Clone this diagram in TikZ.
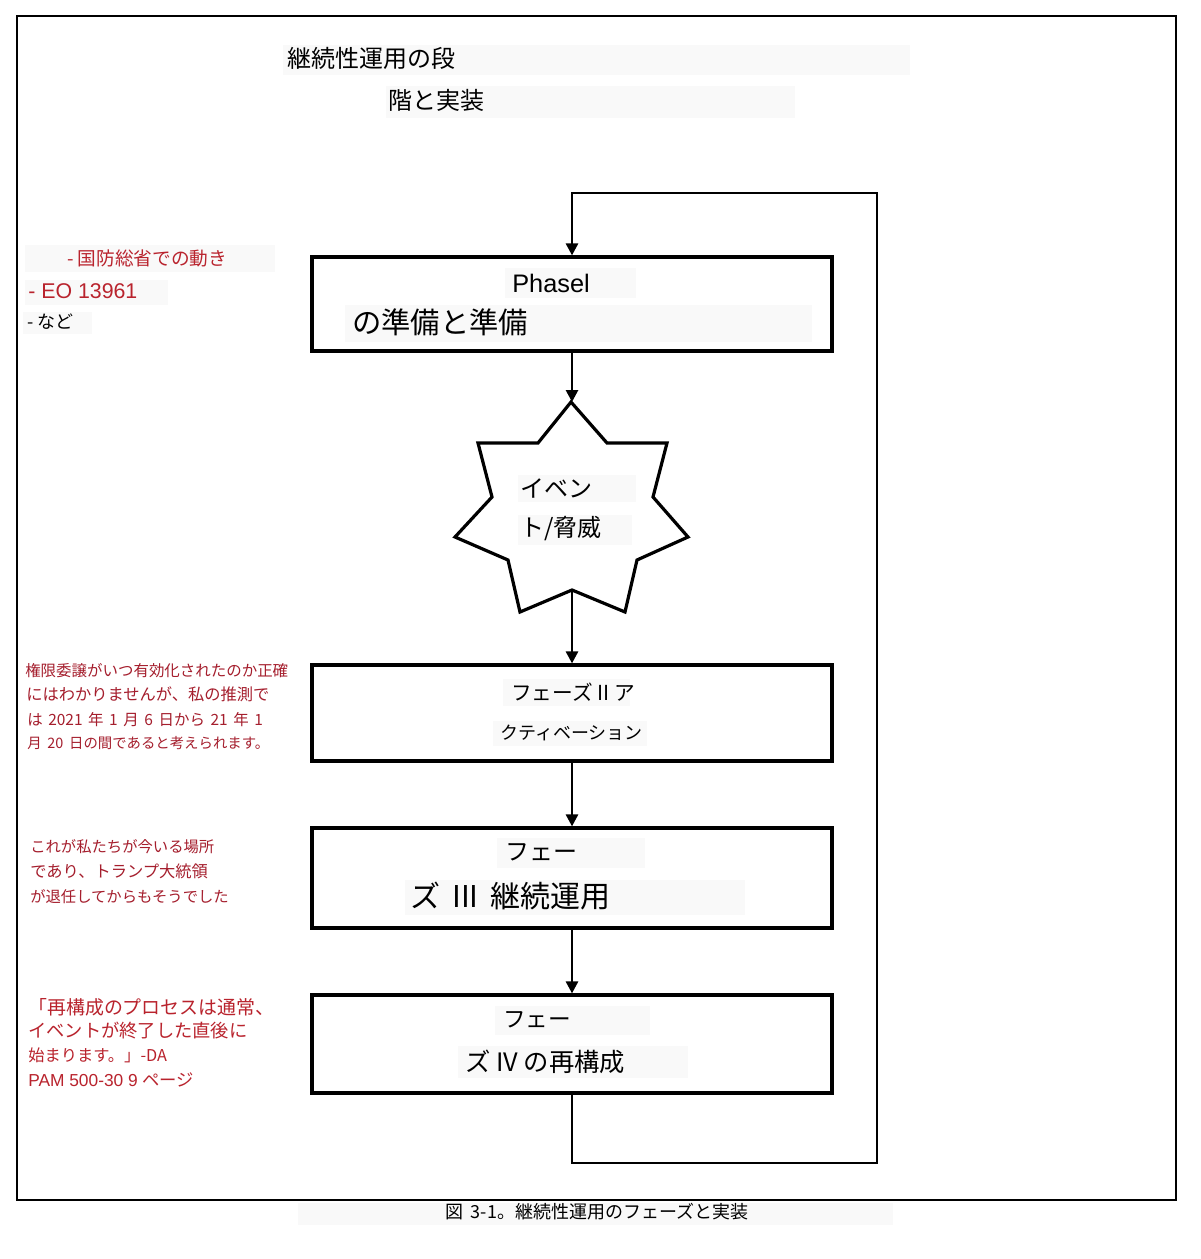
\documentclass[tikz,border=0pt]{standalone}
\usepackage{fontspec}
\setmainfont{Noto Sans CJK JP}
\newfontfamily\lat{Liberation Sans}
\usetikzlibrary{arrows.meta}
\definecolor{redA}{RGB}{185,35,45}
\definecolor{redB}{RGB}{165,30,45}
\definecolor{patchgray}{RGB}{249,249,249}
\newcommand{\fsz}[1]{\fontsize{#1}{#1}\selectfont}
\newcommand{\wsp}[1]{\spaceskip=#1em\relax}
\begin{document}
\begin{tikzpicture}[x=0.75pt,y=-0.75pt,
  frame/.style={draw=black,line width=1.6pt},
  box/.style={draw=black,fill=white,line width=2.4pt,minimum width=390pt,inner sep=0pt},
  conn/.style={draw=black,line width=2pt},
  arr/.style={conn,-{Triangle[width=9pt,length=9pt]}},
  lbl/.style={anchor=west,inner sep=0pt,text=black},
  redlbl/.style={lbl,text=redA},
  red2lbl/.style={lbl,text=redB},
  patch/.style={fill=patchgray},
  starline/.style={draw=black,fill=white,line width=2.4pt,line join=miter}]
\useasboundingbox (0,0) rectangle (1200,1259);
\fill[white] (0,0) rectangle (1200,1259);
% outer frame
\draw[frame] (17,16) rectangle (1176,1200);

% faint backgrounds behind texts
\fill[patch] (283,45) rectangle (910,75);
\fill[patch] (386,86) rectangle (795,118);
\fill[patch] (25,245) rectangle (275,272);
\fill[patch] (25,280) rectangle (168,305);
\fill[patch] (23,312) rectangle (92,334);
\fill[patch] (298,1203) rectangle (893,1225);

% title
\node[lbl] (t1) at (287,58) {\fsz{18pt}継続性運用の段};
\node[lbl] (t2) at (388,100) {\fsz{18pt}階と実装};

% boxes
\node[box,minimum height=70.5pt] (box1) at (572,304) {};
\node[box,minimum height=72pt] (box2) at (572,713) {};
\node[box,minimum height=75pt] (box3) at (572,878) {};
\node[box,minimum height=73.5pt] (box4) at (572,1044) {};

% patches inside boxes
\fill[patch] (505,268) rectangle (636,298);
\fill[patch] (345,305) rectangle (812,342);
\fill[patch] (503,679) rectangle (630,706);
\fill[patch] (493,721) rectangle (647,746);
\fill[patch] (497,838) rectangle (645,868);
\fill[patch] (405,880) rectangle (745,915);
\fill[patch] (495,1006) rectangle (650,1035);
\fill[patch] (458,1046) rectangle (688,1078);

% box texts
\node[lbl] (b1a) at (512,283) {\fsz{19pt}\lat Phasel};
\node[lbl] (b1b) at (352,322) {\fsz{22pt}の準備と準備};
\node[lbl] (b2a) at (511,692) {\fsz{15.5pt}フェーズ II ア};
\node[lbl] (b2b) at (500,733) {\fsz{13.5pt}クティベーション};
\node[lbl] (b3a) at (505,852) {\fsz{18pt}フェー};
\node[lbl] (b3b) at (410,896) {\fsz{22.5pt}\wsp{0.4}ズ III 継続運用};
\node[lbl] (b4a) at (503,1020) {\fsz{17pt}フェー};
\node[lbl] (b4b) at (465,1062) {\fsz{19pt}ズ IV の再構成};

% star
\draw[starline] (571,402) -- (607,443) -- (667,443) -- (653,497) -- (688,537)
  -- (637,560) -- (625,612) -- (572,590) -- (520,612) -- (508,560) -- (455,537)
  -- (492,497) -- (478,443) -- (538,443) -- cycle;
\coordinate (startop) at (572,402);
\coordinate (starbot) at (572,590);
\fill[patch] (518,475) rectangle (636,502);
\fill[patch] (518,515) rectangle (632,545);
\node[lbl] (s1) at (520,488) {\fsz{18pt}イベン};
\node[lbl] (s2) at (520,529) {\fsz{18pt}ト/脅威};

% connectors
\draw[arr] (box1.south) -- (startop);
\draw[arr] (starbot) -- (box2.north);
\draw[arr] (box2.south) -- (box3.north);
\draw[arr] (box3.south) -- (box4.north);
\coordinate (lp1) at (572,1163);
\coordinate (lp2) at (877,1163);
\coordinate (lp3) at (877,193);
\coordinate (lp4) at (572,193);
\draw[arr,line join=miter] (box4.south) -- (lp1) -- (lp2) -- (lp3) -- (lp4) -- (box1.north);

% left annotations
\node[redlbl] (l1) at (67,258) {\fsz{14pt}- 国防総省での動き};
\node[redlbl] (l2) at (28,291) {\fsz{16pt}\lat - EO 13961};
\node[lbl] (l3) at (27,322) {\fsz{13.5pt}- など};

\node[red2lbl] (m1) at (25,671) {\fsz{11.6pt}権限委譲がいつ有効化されたのか正確};
\node[red2lbl] (m2) at (26,694) {\fsz{12.2pt}にはわかりませんが、私の推測で};
\node[red2lbl] (m3) at (27,720) {\fsz{11.6pt}\wsp{0.36}は 2021 年 1 月 6 日から 21 年 1};
\node[red2lbl] (m4) at (27,743) {\fsz{10.8pt}\wsp{0.4}月 20 日の間であると考えられます。};

\node[red2lbl] (p1) at (30,847) {\fsz{11.5pt}これが私たちが今いる場所};
\node[red2lbl] (p2) at (30,871) {\fsz{12.2pt}であり、トランプ大統領};
\node[red2lbl] (p3) at (30,897) {\fsz{11.5pt}が退任してからもそうでした};

\node[redlbl] (q1) at (28,1007) {\fsz{14.2pt}「再構成のプロセスは通常、};
\node[redlbl] (q2) at (28,1031) {\fsz{13.7pt}イベントが終了した直後に};
\node[redlbl] (q3) at (28,1055) {\fsz{12.2pt}始まります。」-DA};
\node[redlbl] (q4) at (28,1080) {\fsz{13pt}{\lat PAM 500-30 9 }ページ};

% caption
\node[lbl] (cap) at (445,1212) {\fsz{13.5pt}\wsp{0.42}図 3-1。継続性運用のフェーズと実装};
\end{tikzpicture}
\end{document}
